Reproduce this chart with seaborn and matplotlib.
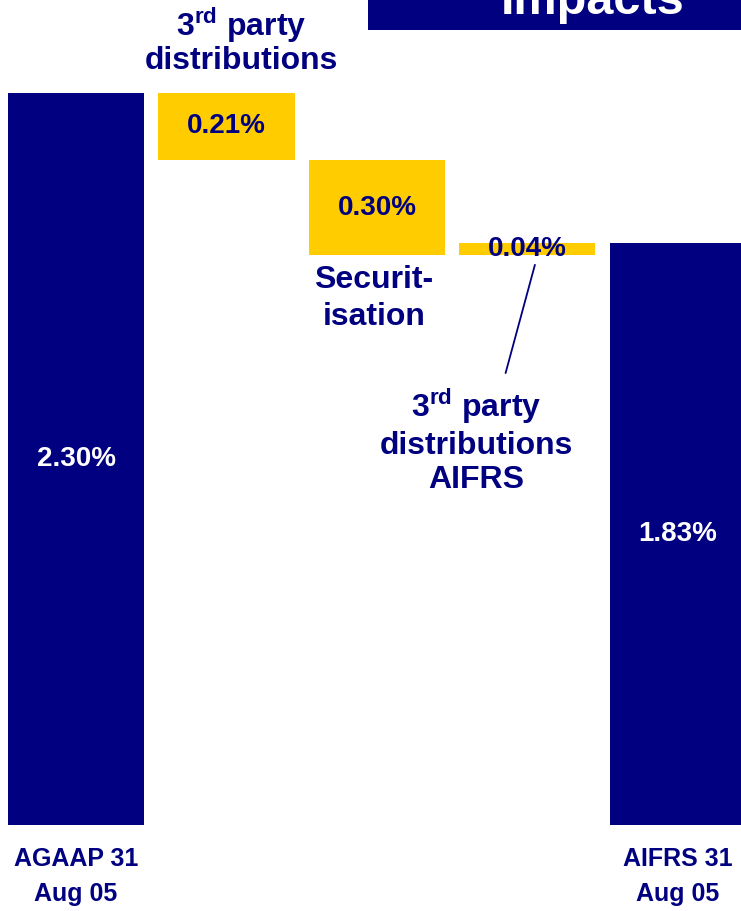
import matplotlib
matplotlib.use("Agg")
import matplotlib.pyplot as plt
import seaborn as sns
import pandas as pd
from matplotlib.patches import Rectangle

sns.set_theme(style="white")
plt.rcParams['font.family'] = ['Liberation Sans', 'DejaVu Sans']
plt.rcParams['mathtext.fontset'] = 'custom'
plt.rcParams['mathtext.rm'] = 'Liberation Sans:bold'
plt.rcParams['mathtext.bf'] = 'Liberation Sans:bold'

# ---- data ----
categories = ["AGAAP 31 Aug 05", "3rd party distributions", "Securitisation",
              "3rd party distributions AIFRS", "AIFRS 31 Aug 05"]
changes = [2.30, -0.21, -0.30, 0.04, 1.83]      # % points
kinds = ["total", "delta", "delta", "delta", "total"]
value_labels = ["2.30%", "0.21%", "0.30%", "0.04%", "1.83%"]

NAVY = "#000080"
GOLD = "#FFCC00"

# waterfall bottoms / tops
bottoms, tops = [], []
running = 0.0
for c, k in zip(changes, kinds):
    if k == "total":
        b, t = 0.0, c
        running = c
    else:
        new = running + c
        b, t = min(running, new), max(running, new)
        running = new
    bottoms.append(b)
    tops.append(t)

df = pd.DataFrame({"cat": categories, "top": tops})
colors = [NAVY if k == "total" else GOLD for k in kinds]

fig = plt.figure(figsize=(7.41, 9.11), dpi=100)
ax = fig.add_axes([0, 0, 1, 1])
sns.barplot(data=df, x="cat", y="top", hue="cat", palette=colors,
            width=0.905, legend=False, ax=ax, saturation=1)
for p, b, t in zip(ax.patches, bottoms, tops):
    p.set_y(b)
    p.set_height(t - b)
    p.set_edgecolor("none")

ax.set_xlim(-0.506, 4.42)
ax.set_ylim(-0.270, 2.592)
ax.axis("off")

# value labels
for i, (b, t, lab, k) in enumerate(zip(bottoms, tops, value_labels, kinds)):
    col = "white" if k == "total" else NAVY
    ax.text(i, (b + t) / 2, lab, ha="center", va="center", color=col,
            fontsize=20, fontweight="bold")

# category labels
lab_kw = dict(ha="center", va="center", color=NAVY, fontsize=23, fontweight="bold")
ax.text(0, -0.161, "AGAAP 31\nAug 05", ha="center", va="center", color=NAVY,
        fontsize=18, fontweight="bold", linespacing=1.55)
ax.text(4.0, -0.161, "AIFRS 31\nAug 05", ha="center", va="center", color=NAVY,
        fontsize=18, fontweight="bold", linespacing=1.55)
ax.text(1.1, 2.463, "3$^{\\mathrm{rd}}$ party\ndistributions", linespacing=1.05, **lab_kw)
ax.text(1.98, 1.655, "Securit-\nisation", linespacing=1.3, **lab_kw)
ax.text(2.66, 1.207, "3$^{\\mathrm{rd}}$ party\ndistributions\nAIFRS", linespacing=1.2, **lab_kw)

# leader line
ax.plot([3.05, 2.855], [1.76, 1.42], color=NAVY, lw=1.3)

# header box
fig.patches.append(Rectangle((368 / 741, 1 - 30 / 911), (741 - 368) / 741, 30 / 911,
                             transform=fig.transFigure, facecolor=NAVY,
                             edgecolor="none", zorder=5))
fig.text(593 / 741, 1 - 14 / 911, "Impacts", ha="center", va="baseline",
         color="white", fontsize=35, fontweight="bold", zorder=6)

fig.savefig("out.png", dpi=100)
